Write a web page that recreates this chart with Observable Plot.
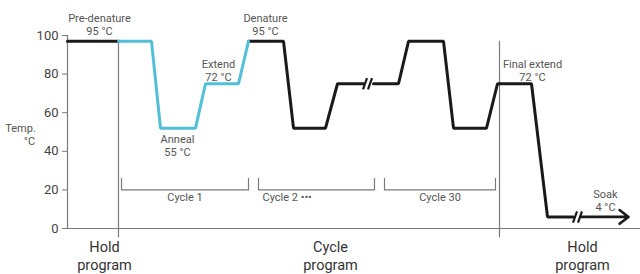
<!DOCTYPE html>
<html>
<head>
<meta charset="utf-8">
<script src="https://cdn.jsdelivr.net/npm/d3@7"></script>
<script src="https://cdn.jsdelivr.net/npm/@observablehq/plot@0.6"></script>
<style>
  html, body { margin: 0; padding: 0; background: #fff; }
  #chart svg { display: block; }
</style>
</head>
<body>
<div id="chart"></div>
<script>
// ---- Data (time in arbitrary schematic units, temperature in °C as drawn) ----
const preT   = [0, 51];
const preV   = [97, 97];
const cyc1T  = [51, 84, 93, 128, 138, 171, 181];
const cyc1V  = [97, 97, 52, 52, 75, 75, 97];
const cyc2T  = [181, 216, 226, 258, 270, 296];
const cyc2V  = [97, 97, 52, 52, 75, 75];
const cyc30T = [306, 331, 341, 376, 386, 419, 430, 464, 480, 506];
const cyc30V = [75, 75, 97, 97, 52, 52, 75, 75, 6, 6];
const soakT  = [513, 561];
const soakV  = [6, 6];

const breakT = [300, 510];
const breakV = [75, 6];

const programDividers = [51, 432];

const bracketNames = ["Cycle 1", "Cycle 2 •••", "Cycle 30"];
const bracketStart = [54, 191, 317];
const bracketEnd   = [181, 307, 428];

const yTicks = [0, 20, 40, 60, 80, 100];

const stepLabels = ["Pre-denature\n95 °C", "Denature\n95 °C", "Extend\n72 °C", "Anneal\n55 °C", "Final extend\n72 °C", "Soak\n4 °C"];
const stepLabelT = [32, 198, 151, 110, 465, 538];
const stepLabelV = [106, 106, 82, 43, 82, 14.6];

const programLabels = ["Hold\nprogram", "Cycle\nprogram", "Hold\nprogram"];
const programLabelT = [37, 263, 515];

// ---- Build tables ----
const toPts = (T, V, seg) => T.map((t, i) => ({t, v: V[i], seg}));
const black = [
  ...toPts(preT, preV, "pre"),
  ...toPts(cyc2T, cyc2V, "c2"),
  ...toPts(cyc30T, cyc30V, "c30")
];
const cyan = toPts(cyc1T, cyc1V, "c1");
const soak = [{x1: soakT[0], x2: soakT[1], y: soakV[0]}];

const slashes = [];
breakT.forEach((t, i) => {
  [-2.5, 2.5].forEach(o => slashes.push({x1: t + o - 2, x2: t + o + 2, y1: breakV[i] - 2.9, y2: breakV[i] + 2.9}));
});

const brackets = [];
bracketNames.forEach((n, i) => {
  const a = bracketStart[i], b = bracketEnd[i];
  brackets.push({t: a, v: 26, n}, {t: a, v: 20, n}, {t: b, v: 20, n}, {t: b, v: 26, n});
});
const bracketLabels = bracketNames.map((n, i) => ({
  n,
  t: i === 1 ? bracketStart[i] + 4 : (bracketStart[i] + bracketEnd[i]) / 2,
  anchor: i === 1 ? "start" : "middle"
}));

const stepText = stepLabels.map((s, i) => ({s, t: stepLabelT[i], v: stepLabelV[i]}));
const progText = programLabels.map((s, i) => ({s, t: programLabelT[i], v: -13.8}));

const FONT = "Roboto, 'Noto Sans', sans-serif";
const INK = "#1a1a1a";
const CYAN = "#52bfd8";
const GRAY = "#7a7a7a";
const TXT = "#555";

const chart = Plot.plot({
  width: 640,
  height: 274,
  marginLeft: 67,
  marginRight: 0,
  marginTop: 35,
  marginBottom: 46,
  style: {fontFamily: FONT, background: "#fff", overflow: "visible"},
  x: {domain: [0, 573], axis: null},
  y: {domain: [0, 100], axis: null},
  marks: [
    // axes
    Plot.axisY({ticks: yTicks, tickSize: 5, tickPadding: 4, fontSize: 13, color: "#444", label: null, stroke: GRAY}),
    Plot.ruleX([0], {y1: 0, y2: 100, stroke: GRAY, strokeWidth: 1.2}),
    Plot.ruleY([0], {stroke: GRAY, strokeWidth: 1.2}),
    // program dividers
    Plot.ruleX(programDividers, {y1: -4.8, y2: 97, stroke: GRAY, strokeWidth: 1.2}),
    // cycle brackets
    Plot.line(brackets, {x: "t", y: "v", z: "n", stroke: GRAY, strokeWidth: 1.2}),
    Plot.text(bracketLabels.filter(d => d.anchor === "middle"), {x: "t", y: 16, text: "n", textAnchor: "middle", fontSize: 11, fill: TXT}),
    Plot.text(bracketLabels.filter(d => d.anchor === "start"), {x: "t", y: 16, text: "n", textAnchor: "start", fontSize: 11, fill: TXT}),
    // temperature profile
    Plot.line(black, {x: "t", y: "v", z: "seg", stroke: INK, strokeWidth: 3, strokeLinejoin: "miter"}),
    Plot.line(cyan, {x: "t", y: "v", stroke: CYAN, strokeWidth: 3, strokeLinejoin: "miter"}),
    Plot.arrow(soak, {x1: "x1", x2: "x2", y1: "y", y2: "y", stroke: INK, strokeWidth: 2.6, headLength: 6.5, headAngle: 75}),
    Plot.link(slashes, {x1: "x1", x2: "x2", y1: "y1", y2: "y2", stroke: INK, strokeWidth: 2.2}),
    // annotations
    Plot.text(stepText, {x: "t", y: "v", text: "s", fontSize: 11, fill: TXT, lineHeight: 1.2}),
    Plot.text(["Temp."], {x: -47, y: 52, text: d => d, fontSize: 11, fill: TXT}),
    Plot.text(["°C"], {x: -38, y: 45, text: d => d, fontSize: 11, fill: TXT}),
    Plot.text(progText, {x: "t", y: "v", text: "s", fontSize: 14.5, fill: "#333", lineHeight: 1.25})
  ]
});

document.getElementById("chart").append(chart);
</script>
</body>
</html>
